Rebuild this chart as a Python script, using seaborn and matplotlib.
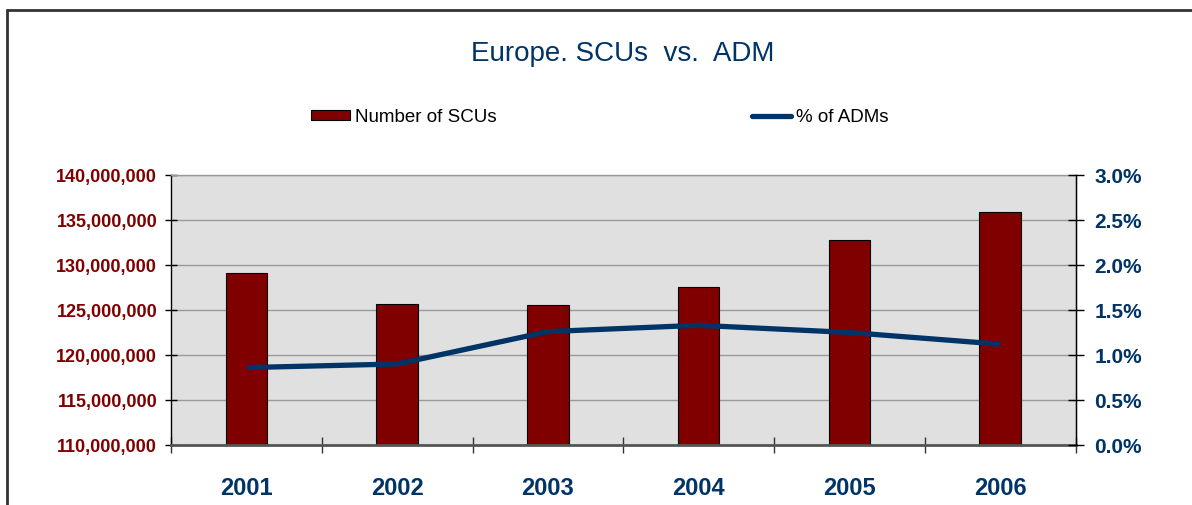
import matplotlib
matplotlib.use("Agg")
import matplotlib.pyplot as plt
import matplotlib.ticker as mticker
from matplotlib.lines import Line2D
from matplotlib.patches import Patch
import seaborn as sns
import numpy as np
import pandas as pd

# Werte
years = ["2001", "2002", "2003", "2004", "2005", "2006"]
scus = [129.1e6, 125.7e6, 125.5e6, 127.6e6, 132.75e6, 135.85e6]
adm_pct = [0.86, 0.90, 1.26, 1.33, 1.25, 1.12]

red = "#800000"
blue = "#003366"

sns.set_theme(style="white")
plt.rcParams["font.family"] = ["Liberation Sans", "DejaVu Sans"]

df = pd.DataFrame({"year": years, "scus": scus, "pct": adm_pct})
df["pos"] = np.arange(len(years))

fig = plt.figure(figsize=(11.92, 5.06), dpi=100)
ax = fig.add_axes([0.1435, 0.1186, 0.7588, 0.5336])
ax.set_facecolor("#e0e0e0")

sns.barplot(x="year", y="scus", data=df, color=red, width=0.276,
            edgecolor="black", linewidth=0.8, saturation=1, ax=ax, zorder=2)
ax.set_ylim(110e6, 140e6)
ax.set_xlim(-0.5, 5.5)
ax.yaxis.set_major_locator(mticker.MultipleLocator(5e6))
ax.yaxis.set_major_formatter(mticker.FuncFormatter(lambda v, p: f"{v:,.0f}"))
ax.grid(axis="y", color="#999999", linewidth=1, zorder=0)
ax.set_axisbelow(True)
ax.set_xlabel("")
ax.set_ylabel("")

# x-Achse: Beschriftung in der Mitte, Striche an den Grenzen
ax.set_xticks(np.arange(6))
ax.set_xticklabels(years)
ax.set_xticks(np.arange(-0.5, 6.0, 1.0), minor=True)
ax.tick_params(axis="x", which="major", length=0, pad=22,
               labelsize=17, labelcolor=blue)
ax.tick_params(axis="x", which="minor", direction="inout", length=11,
               width=1, color="#333333", bottom=True)
for lbl in ax.get_xticklabels():
    lbl.set_fontweight("bold")
ax.tick_params(axis="y", direction="inout", length=9, width=1,
               color="black", pad=5.5, labelsize=13, labelcolor=red, left=True)
for lbl in ax.get_yticklabels():
    lbl.set_fontweight("bold")

for side in ["top", "right"]:
    ax.spines[side].set_color("#999999")
    ax.spines[side].set_linewidth(1)
ax.spines["left"].set_color("black")
ax.spines["left"].set_linewidth(1)
ax.spines["bottom"].set_color("#555555")
ax.spines["bottom"].set_linewidth(2)

# zweite Achse fuer den Anteil
ax2 = ax.twinx()
sns.lineplot(x="pos", y="pct", data=df, color=blue, linewidth=3.8,
             ax=ax2, solid_capstyle="butt")
ax2.set_ylim(0, 3.0)
ax2.yaxis.set_major_locator(mticker.MultipleLocator(0.5))
ax2.yaxis.set_major_formatter(mticker.FuncFormatter(lambda v, p: f"{v:.1f}%"))
ax2.set_xlim(-0.5, 5.5)
ax2.set_ylabel("")
ax2.set_xlabel("")
ax2.tick_params(axis="y", direction="inout", length=11, width=1,
                color="black", pad=8, labelsize=15, labelcolor=blue, right=True)
for lbl in ax2.get_yticklabels():
    lbl.set_fontweight("bold")
for side in ["top", "left", "bottom"]:
    ax2.spines[side].set_visible(False)
ax2.spines["right"].set_color("black")
ax2.spines["right"].set_linewidth(1)

fig.text(0.522, 0.893, "Europe. SCUs  vs.  ADM", ha="center", va="center",
         fontsize=20, color=blue)

handles = [Patch(facecolor=red, edgecolor="black", linewidth=0.8),
           Line2D([], [], color=blue, linewidth=3.8)]
leg = fig.legend(handles, ["Number of SCUs", "% of ADMs"], loc="center",
                 bbox_to_anchor=(0.503, 0.767), ncol=2, frameon=False,
                 fontsize=13.5, handlelength=2.1, handleheight=0.45,
                 handletextpad=0.25, columnspacing=13.6)
for t in leg.get_texts():
    t.set_color("black")

# Rahmen (oben und links sichtbar)
fig.add_artist(Line2D([0.0059, 1.0], [0.978, 0.978], color="#333333",
                      linewidth=2, transform=fig.transFigure))
fig.add_artist(Line2D([0.0059, 0.0059], [0.0, 0.978], color="#333333",
                      linewidth=2, transform=fig.transFigure))

fig.savefig("out.png", dpi=100)
